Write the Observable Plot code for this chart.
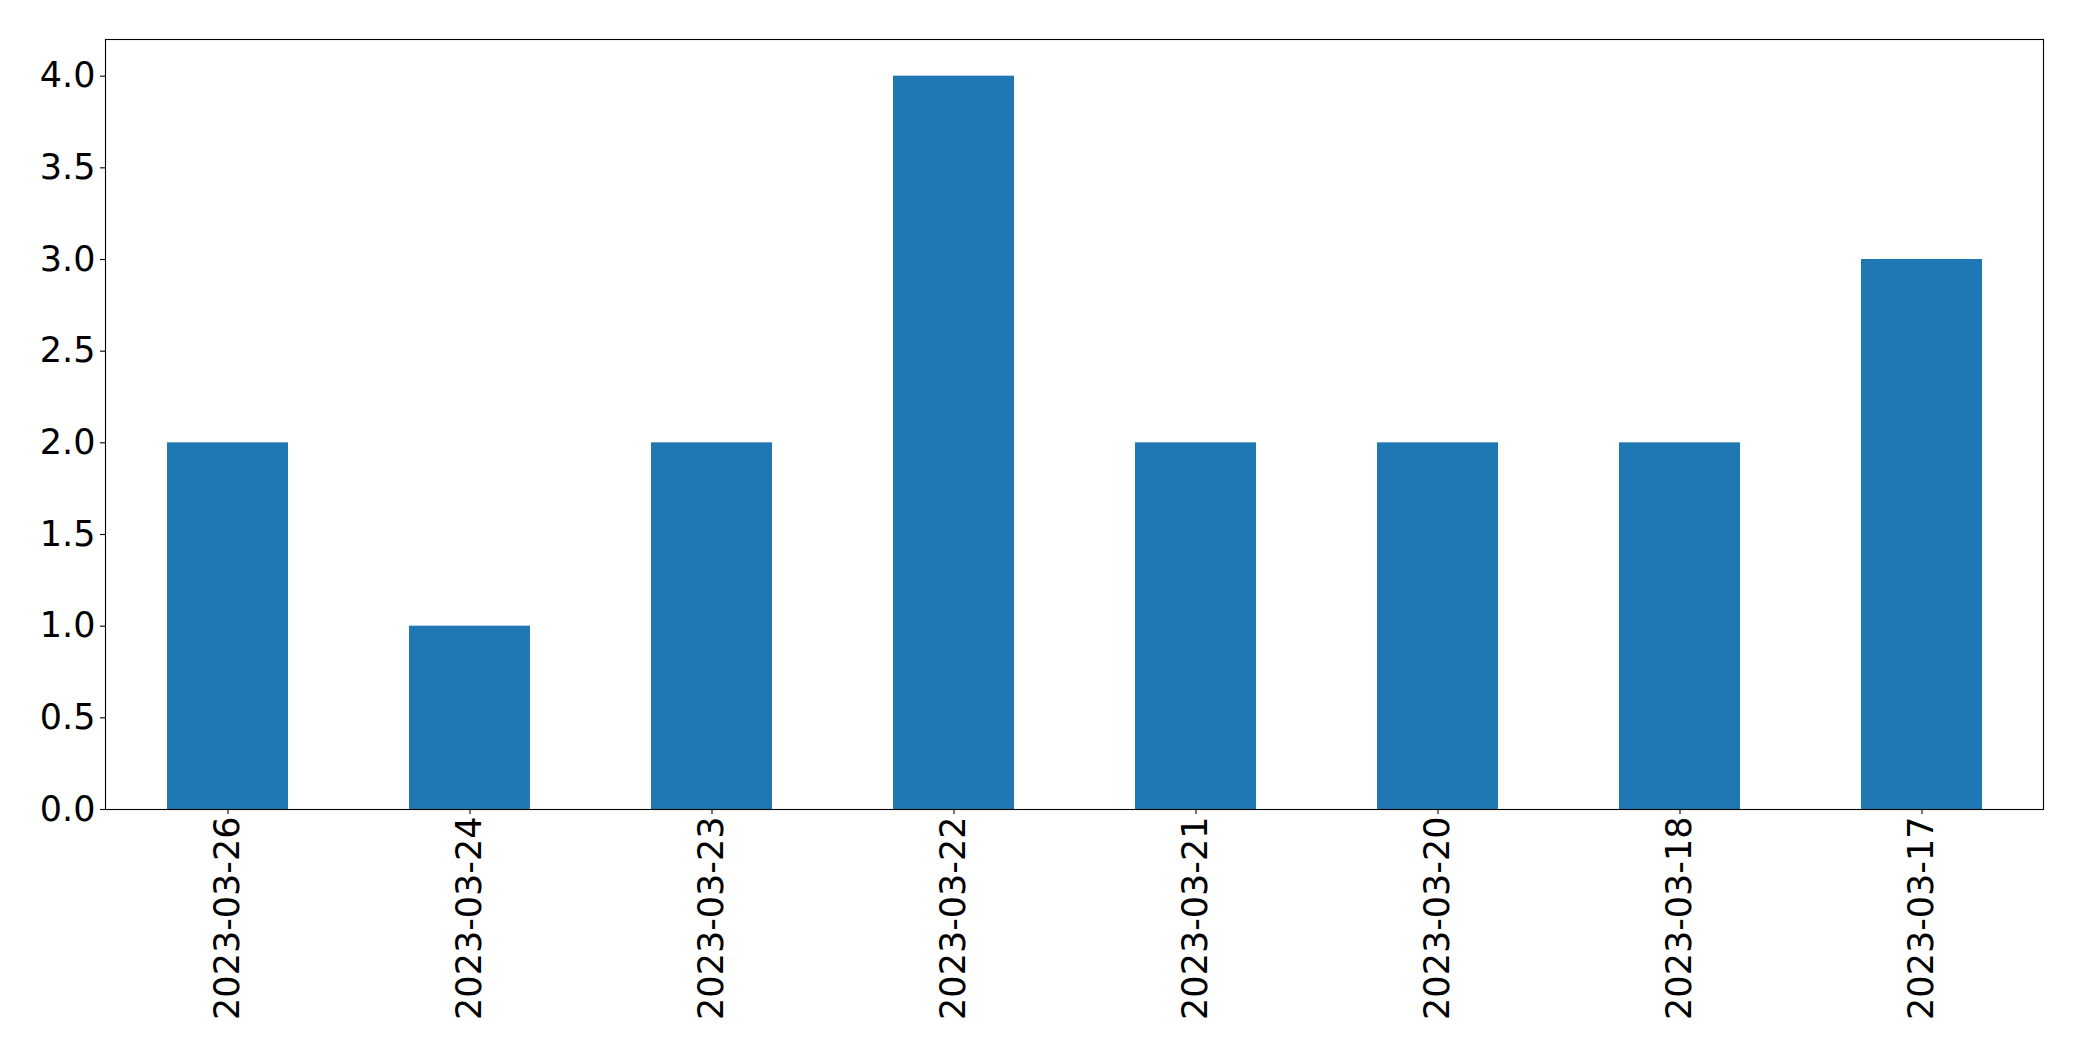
<!DOCTYPE html>
<html>
<head>
<meta charset="utf-8">
<script src="https://cdn.jsdelivr.net/npm/d3@7"></script>
<script src="https://cdn.jsdelivr.net/npm/@observablehq/plot@0.6"></script>
<style>
  html, body { margin: 0; padding: 0; background: #fff; }
  #chart svg { display: block; }
</style>
</head>
<body>
<div id="chart"></div>
<script>
const dates = ["2023-03-26", "2023-03-24", "2023-03-23", "2023-03-22", "2023-03-21", "2023-03-20", "2023-03-18", "2023-03-17"];
const counts = [2, 1, 2, 4, 2, 2, 2, 3];
const yTicks = [0, 0.5, 1, 1.5, 2, 2.5, 3, 3.5, 4];

const data = dates.map((d, i) => ({date: d, count: counts[i]}));
const font = "'DejaVu Sans', sans-serif";

const chart = Plot.plot({
  width: 2082,
  height: 1061,
  marginLeft: 105,
  marginRight: 39,
  marginTop: 39,
  marginBottom: 252,
  style: {fontFamily: font, fontSize: "35px", color: "#000", background: "#fff"},
  x: {domain: dates, paddingInner: 0.5, paddingOuter: 0.25},
  y: {domain: [0, 4.2]},
  marks: [
    Plot.barY(data, {x: "date", y: "count", fill: "#1f77b4"}),
    Plot.frame({stroke: "#000", strokeWidth: 1.1}),
    Plot.axisY({ticks: yTicks, tickFormat: d => d.toFixed(1), tickSize: 5, tickPadding: 5, fontSize: 35, label: null, strokeWidth: 1.1}),
    Plot.axisX({tickSize: 5, tickPadding: 2, tickRotate: -90, fontSize: 35, label: null, strokeWidth: 1.1})
  ]
});
document.getElementById("chart").appendChild(chart);
</script>
</body>
</html>
